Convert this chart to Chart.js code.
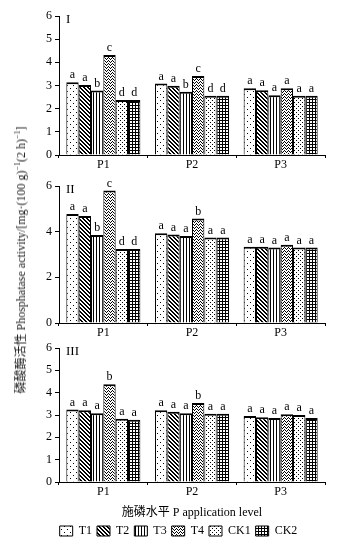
<!DOCTYPE html>
<html>
<head>
<meta charset="utf-8">
<script src="https://cdn.jsdelivr.net/npm/chart.js@4"></script>
<style>
  body { margin: 0; background: #fff; }
  #fig { position: relative; width: 344px; height: 547px; overflow: hidden; }
  #fig canvas { position: absolute; left: 0; }
  #ytitle {
    position: absolute; left: 20px; top: 260px; white-space: nowrap;
    transform: translate(-50%, -50%) rotate(-90deg);
    font: 12px "Liberation Serif", "Noto Sans CJK SC", serif; color: #222;
  }
  #ytitle sup { font-size: 8px; }
</style>
</head>
<body>
<div id="fig">
  <canvas id="c1" width="344" height="178" style="top:0px"></canvas>
  <canvas id="c2" width="344" height="168" style="top:172px"></canvas>
  <canvas id="c3" width="344" height="211" style="top:336px"></canvas>
  <div id="ytitle">磷酸酶活性 Phosphatase activity/[mg·(100 g)<sup>−1</sup>(2 h)<sup>−1</sup>]</div>
</div>
<script>
// data
const categories = ['P1', 'P2', 'P3'];
const treatments = ['T1', 'T2', 'T3', 'T4', 'CK1', 'CK2'];

// panel I  (rows = treatments, cols = P1..P3)
const valuesI = [
  [3.14, 3.09, 2.88],
  [3.02, 2.99, 2.80],
  [2.78, 2.73, 2.58],
  [4.32, 3.41, 2.88],
  [2.37, 2.56, 2.56],
  [2.37, 2.56, 2.56]
];
const lettersI = [
  ['a', 'a', 'a'],
  ['a', 'a', 'a'],
  ['b', 'b', 'a'],
  ['c', 'c', 'a'],
  ['d', 'd', 'a'],
  ['d', 'd', 'a']
];

// panel II
const valuesII = [
  [4.77, 3.93, 3.34],
  [4.69, 3.88, 3.34],
  [3.85, 3.81, 3.31],
  [5.80, 4.58, 3.43],
  [3.24, 3.75, 3.31],
  [3.24, 3.75, 3.31]
];
const lettersII = [
  ['a', 'a', 'a'],
  ['a', 'a', 'a'],
  ['b', 'a', 'a'],
  ['c', 'b', 'a'],
  ['d', 'a', 'a'],
  ['d', 'a', 'a']
];

// panel III
const valuesIII = [
  [3.25, 3.21, 2.95],
  [3.21, 3.14, 2.90],
  [3.08, 3.08, 2.87],
  [4.38, 3.54, 3.03],
  [2.83, 3.06, 3.00],
  [2.79, 3.06, 2.87]
];
const lettersIII = [
  ['a', 'a', 'a'],
  ['a', 'a', 'a'],
  ['a', 'a', 'a'],
  ['b', 'b', 'a'],
  ['a', 'a', 'a'],
  ['a', 'a', 'a']
];

const serif = '"Liberation Serif", "Noto Sans CJK SC", serif';

// fill patterns, one per treatment
function makePattern(w, h, pixels) {
  const c = document.createElement('canvas');
  c.width = w; c.height = h;
  const g = c.getContext('2d');
  g.fillStyle = '#fff';
  g.fillRect(0, 0, w, h);
  g.fillStyle = '#000';
  pixels.forEach(p => g.fillRect(p[0], p[1], 1, 1));
  return document.createElement('canvas').getContext('2d').createPattern(c, 'repeat');
}

const patterns = [
  makePattern(6, 6, [[1, 1], [4, 4]]),                                  // T1 dots
  makePattern(4, 4, [[0, 0], [1, 1], [2, 2], [3, 3], [1, 0], [2, 1], [3, 2], [0, 3]]), // T2 diagonal
  makePattern(3, 1, [[0, 0]]),                                          // T3 vertical
  makePattern(4, 3, [[0, 0], [1, 1], [3, 1], [2, 2]]),                  // T4 zigzag
  makePattern(4, 4, [[0, 0], [2, 2]]),                                  // CK1 dots
  makePattern(3, 3, [[0, 0], [1, 0], [2, 0], [0, 1], [0, 2]])           // CK2 grid
];

const letterPlugin = {
  id: 'letters',
  afterDatasetsDraw(chart, args, opts) {
    const ctx = chart.ctx;
    ctx.save();
    ctx.fillStyle = '#000';
    ctx.font = '12px ' + serif;
    ctx.textAlign = 'center';
    ctx.textBaseline = 'bottom';
    opts.letters.forEach((row, i) => {
      chart.getDatasetMeta(i).data.forEach((bar, j) => {
        ctx.fillText(row[j], bar.x, bar.y - 1);
      });
    });
    ctx.textAlign = 'left';
    ctx.textBaseline = 'top';
    ctx.font = '13px ' + serif;
    ctx.fillText(opts.panel, chart.chartArea.left + 7, chart.chartArea.top - 3);
    ctx.restore();
  }
};

function makeChart(id, values, letters, panel, step, padTop, xHeight, last) {
  const datasets = treatments.map((t, i) => ({
    label: t,
    data: values[i],
    backgroundColor: patterns[i],
    borderColor: '#000',
    borderWidth: { top: 2, left: 1, right: 1, bottom: 0 },
    borderSkipped: false,
    categoryPercentage: 0.835,
    barPercentage: 1.0
  }));
  // left padding only moves the centred legend, y axis width makes up the rest
  const padLeft = last ? 32 : 0;
  return new Chart(document.getElementById(id), {
    type: 'bar',
    data: { labels: categories, datasets: datasets },
    plugins: [letterPlugin],
    options: {
      responsive: false,
      animation: false,
      layout: { padding: { top: padTop, right: 19, left: padLeft, bottom: 0 } },
      plugins: {
        letters: { letters: letters, panel: panel },
        tooltip: { enabled: false },
        legend: {
          display: last,
          position: 'bottom',
          labels: {
            color: '#000',
            font: { family: serif, size: 12 },
            boxWidth: 13,
            boxHeight: 10,
            padding: 5
          }
        }
      },
      scales: {
        x: {
          border: { color: '#000', width: 1 },
          grid: { drawOnChartArea: false, color: '#000', tickLength: 3 },
          ticks: { color: '#000', font: { family: serif, size: 12 }, padding: 0 },
          title: {
            display: last,
            text: '施磷水平 P application level',
            color: '#000',
            font: { family: serif, size: 12 },
            padding: { top: 4, bottom: 0 }
          },
          afterFit: s => { s.height = xHeight; }
        },
        y: {
          min: 0,
          max: 6,
          border: { color: '#000', width: 1 },
          grid: { drawOnChartArea: false, color: '#000', tickLength: 4 },
          ticks: { stepSize: step, color: '#000', font: { family: serif, size: 12 }, padding: 3 },
          afterFit: s => { s.width = 59 - padLeft; }
        }
      }
    }
  });
}

makeChart('c1', valuesI, lettersI, 'I', 1, 16, 23, false);
makeChart('c2', valuesII, lettersII, 'II', 2, 14, 17, false);
makeChart('c3', valuesIII, lettersIII, 'III', 1, 12, 38, true);
</script>
</body>
</html>
